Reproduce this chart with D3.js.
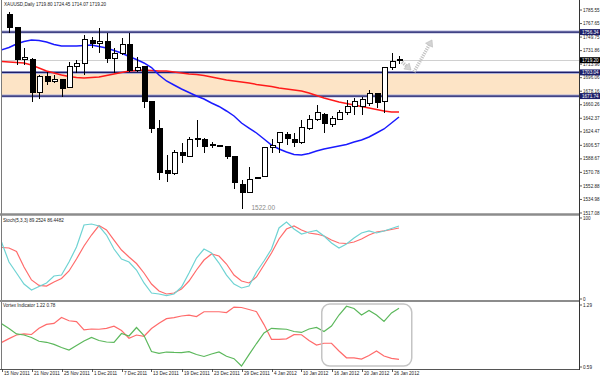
<!DOCTYPE html>
<html lang="en">
<head>
<meta charset="UTF-8">
<title>XAUUSD Daily</title>
<script src="https://d3js.org/d3.v7.min.js"></script>
<style>
  body { margin: 0; background: #fff; }
  text { font-family: "Liberation Sans", Arial, sans-serif; }
</style>
</head>
<body>
<div id="chart"></div>
<script>
// ---- data (one entry per daily bar, 15 Nov 2011 .. 27 Jan 2012) ----
var open  = [null,1779.0,1761.8,1719.5,1719.5,1675.8,1697.0,1690.4,1693.0,1683.7,1710.2,1714.2,1744.6,1741.9,1743.3,1720.8,1728.7,1739.3,1706.2,1710.2,1663.9,1629.5,1572.7,1568.7,1596.5,1591.2,1613.7,1613.7,1607.5,1607.0,1604.4,1591.2,1555.4,1543.6,1563.4,1566.0,1603.1,1609.7,1620.3,1613.7,1609.7,1629.5,1640.1,1646.7,1633.5,1641.4,1649.4,1657.3,1658.6,1661.3,1674.5,1663.9,1708.9,1719.80];
var high  = [null,1782.9,1763.1,1735.3,1722.1,1699.6,1703.6,1699.6,1694.3,1716.8,1719.5,1752.5,1749.9,1761.8,1755.2,1735.3,1748.5,1755.2,1723.4,1711.5,1665.0,1640.1,1593.8,1600.4,1609.7,1617.6,1640.1,1616.3,1611.0,1607.5,1604.4,1591.5,1560.8,1578.0,1563.8,1604.4,1615.0,1624.2,1624.2,1622.9,1640.1,1646.7,1659.9,1649.4,1645.4,1653.3,1666.6,1669.2,1670.5,1679.8,1675.8,1710.2,1728.7,1724.45];
var low   = [null,1755.2,1712.8,1712.8,1663.9,1667.9,1686.4,1689.0,1670.5,1682.4,1702.3,1699.6,1735.3,1728.7,1715.5,1702.3,1726.1,1703.6,1703.6,1656.0,1622.9,1560.8,1558.1,1567.4,1583.2,1591.2,1604.4,1596.5,1603.1,1606.5,1588.5,1548.8,1522.0,1543.0,1563.0,1564.7,1596.5,1596.5,1607.0,1604.4,1608.4,1626.9,1638.8,1622.9,1630.8,1640.1,1646.7,1646.7,1646.7,1658.6,1656.0,1649.4,1706.2,1714.07];
var close = [null,1761.8,1719.5,1722.1,1675.8,1697.0,1690.4,1694.3,1682.4,1710.2,1714.2,1745.9,1741.9,1743.3,1720.8,1727.4,1740.6,1706.2,1708.9,1663.9,1629.5,1571.3,1568.7,1596.5,1592.5,1613.7,1615.0,1604.4,1607.0,1607.0,1591.2,1556.8,1543.6,1560.8,1563.4,1603.1,1607.0,1622.9,1615.0,1609.7,1630.8,1640.1,1649.4,1636.1,1642.7,1649.4,1658.6,1663.9,1666.6,1674.5,1662.6,1708.9,1718.1,1719.20];

var maFast = [1732.7,1736.0,1740.6,1743.9,1745.9,1745.2,1743.3,1740.0,1738.0,1738.0,1738.0,1738.6,1739.3,1737.3,1735.3,1732.0,1728.7,1724.1,1720.1,1715.5,1709.5,1699.6,1691.7,1686.4,1681.1,1676.5,1671.8,1667.9,1662.6,1658.0,1652.0,1645.4,1636.1,1629.5,1622.9,1615.0,1607.0,1601.8,1597.8,1594.5,1593.8,1595.8,1599.1,1601.8,1603.7,1605.7,1607.7,1611.0,1613.7,1617.6,1622.9,1628.2,1636.1,1644.1];
var maSlow = [1717.5,1716.8,1716.1,1715.5,1712.8,1708.9,1704.9,1702.3,1699.6,1697.6,1696.3,1695.6,1696.3,1697.0,1699.0,1700.9,1702.9,1704.9,1705.6,1706.2,1705.6,1704.9,1704.9,1703.6,1702.3,1700.9,1700.3,1699.0,1697.0,1695.0,1693.0,1691.7,1690.4,1689.0,1687.1,1685.7,1684.4,1682.4,1681.1,1679.8,1678.5,1675.8,1672.5,1669.2,1666.6,1663.9,1661.9,1659.9,1658.0,1656.0,1654.0,1652.0,1650.7,1650.7];

var stochMain   = [70.4,45.7,32.1,18.5,11.1,15.4,19.8,28.4,29.6,45.7,64.2,91.4,92.6,90.1,79.0,61.7,49.4,45.7,35.8,19.8,7.4,6.2,4.3,6.2,14.8,32.1,50.6,61.7,56.8,44.4,29.6,18.5,13.6,16.0,33.3,46.9,61.7,87.7,95.1,86.4,80.2,82.7,84.6,77.8,69.1,63.0,67.9,75.3,81.5,84.0,81.5,84.0,87.0,90.1];
var stochSignal = [63.6,63.0,58.6,39.5,23.5,16.7,16.0,21.0,25.3,34.6,49.4,65.4,79.0,90.7,85.2,72.8,60.5,51.9,43.8,32.1,18.5,9.9,6.2,7.4,12.3,22.2,35.8,48.1,55.6,53.1,43.2,29.6,22.2,19.8,27.2,42.0,56.8,74.1,86.4,90.1,85.2,81.5,80.2,77.8,72.8,69.1,68.5,70.4,74.1,79.0,82.7,84.0,85.8,87.7];

var viPlus  = [1.079,1.025,0.963,0.951,0.923,0.881,0.869,0.846,0.810,0.782,0.833,0.884,0.923,0.889,0.872,0.867,0.968,0.940,1.036,0.946,0.765,0.745,0.759,0.755,0.753,0.763,0.731,0.709,0.737,0.760,0.711,0.684,0.601,0.729,0.855,0.974,1.027,1.021,1.016,0.991,0.980,1.019,1.036,0.991,1.053,1.177,1.276,1.250,1.177,1.228,1.177,1.104,1.200,1.254];
var viMinus = [0.867,0.910,0.951,0.963,0.957,1.027,1.071,1.082,1.149,1.112,1.103,1.009,1.019,1.016,1.027,1.050,1.002,0.915,0.951,0.937,1.025,1.085,1.136,1.147,1.166,1.175,1.160,1.214,1.214,1.214,1.205,1.267,1.262,1.239,1.215,1.069,0.903,0.903,0.908,0.955,0.954,0.890,0.838,0.858,0.858,0.771,0.694,0.694,0.680,0.720,0.771,0.714,0.688,0.677];

// date labels, one every 4 bars
var dateLabels = ["15 Nov 2011","21 Nov 2011","25 Nov 2011","1 Dec 2011","7 Dec 2011","13 Dec 2011","19 Dec 2011","23 Dec 2011","29 Dec 2011","4 Jan 2012","10 Jan 2012","16 Jan 2012","20 Jan 2012","26 Jan 2012"];

// price scale labels
var priceTicks = [1785.55,1767.65,1749.75,1731.86,1713.96,1696.06,1678.16,1660.26,1642.37,1624.47,1606.57,1588.67,1570.78,1552.88,1534.98,1517.08];
var levels = [1756.34,1703.04,1671.74];   // horizontal lines
var zone = [1703.04,1671.74];               // shaded band
var lastPrice = 1719.20;
var lowMark = {bar: 32, price: 1522.00};

var stochTicks = [100, 0];
var vortexTicks = [1.29, 0.59];

var W = 600, H = 375, axisX = 579;

var svg = d3.select("#chart").append("svg")
    .attr("width", W).attr("height", H)
    .style("display", "block");

svg.append("rect").attr("width", W).attr("height", H).attr("fill", "#fff");

var x = d3.scaleLinear().domain([0, 77]).range([1.5, axisX]);
var yP = d3.scaleLinear().domain([1517.08, 1798.8]).range([213, 0]);
var yS = d3.scaleLinear().domain([0, 100]).range([299, 218]);
var yV = d3.scaleLinear().domain([0.59, 1.29]).range([367, 305]);

var defs = svg.append("defs");
function clip(id, y0, y1) {
  defs.append("clipPath").attr("id", id).append("rect")
    .attr("x", 2).attr("y", y0).attr("width", axisX - 2).attr("height", y1 - y0);
}
clip("cMain", 0, 213);
clip("cStoch", 216, 300);
clip("cVort", 302, 369);

var idx = d3.range(maFast.length);

// ---------- main panel ----------
var main = svg.append("g").attr("clip-path", "url(#cMain)");

main.append("rect")
  .attr("x", 2).attr("width", axisX - 2)
  .attr("y", yP(zone[0])).attr("height", yP(zone[1]) - yP(zone[0]))
  .attr("fill", "#fde4c6");

main.append("line")
  .attr("x1", 2).attr("x2", axisX)
  .attr("y1", Math.round(yP(lastPrice)) + 0.5).attr("y2", Math.round(yP(lastPrice)) + 0.5)
  .attr("stroke", "#d0d0d0").attr("stroke-width", 1);

levels.forEach(function(v) {
  main.append("line").attr("x1", 2).attr("x2", axisX).attr("y1", yP(v)).attr("y2", yP(v))
    .attr("stroke", "#aeb0d8").attr("stroke-width", 3);
  main.append("line").attr("x1", 2).attr("x2", axisX).attr("y1", yP(v)).attr("y2", yP(v))
    .attr("stroke", "#1d1f6a").attr("stroke-width", 1.2);
});

var lineP = function(arr) {
  return d3.line().x(function(i) { return x(i); }).y(function(i) { return yP(arr[i]); })(idx);
};
main.append("path").attr("d", lineP(maSlow)).attr("fill", "none").attr("stroke", "#ff1a1a").attr("stroke-width", 1.5);
main.append("path").attr("d", lineP(maFast)).attr("fill", "none").attr("stroke", "#1a1aff").attr("stroke-width", 1.5);

// candles
var bars = idx.filter(function(i) { return open[i] !== null; });
var cg = main.append("g").attr("shape-rendering", "crispEdges");
cg.selectAll("line.wick").data(bars).enter().append("line")
  .attr("x1", function(i) { return Math.round(x(i)) + 0.5; })
  .attr("x2", function(i) { return Math.round(x(i)) + 0.5; })
  .attr("y1", function(i) { return yP(high[i]); })
  .attr("y2", function(i) { return yP(low[i]); })
  .attr("stroke", "#000");
cg.selectAll("rect.body").data(bars).enter().append("rect")
  .attr("x", function(i) { return Math.round(x(i)) - 2; })
  .attr("width", 5)
  .attr("y", function(i) { return yP(Math.max(open[i], close[i])); })
  .attr("height", function(i) { return Math.max(1, Math.abs(yP(open[i]) - yP(close[i]))); })
  .attr("fill", function(i) { return close[i] < open[i] ? "#000" : "#fff"; })
  .attr("stroke", "#000").attr("stroke-width", 1);

// hand-drawn arrows
var arrows = [
  {b0: 53.4, p0: 1716.8, b1: 54.6, p1: 1706.2},
  {b0: 55.0, p0: 1703.6, b1: 57.4, p1: 1745.9}
];
arrows.forEach(function(a) {
  var x1 = x(a.b0), y1 = yP(a.p0), x2 = x(a.b1), y2 = yP(a.p1);
  var dx = x2 - x1, dy = y2 - y1, L = Math.sqrt(dx * dx + dy * dy);
  var ux = dx / L, uy = dy / L, hl = 6, hw = 4;
  var bx = x2 - ux * hl, by = y2 - uy * hl;
  main.append("line").attr("x1", x1).attr("y1", y1).attr("x2", bx).attr("y2", by)
    .attr("stroke", "#c2c2c2").attr("stroke-width", 3.5).attr("stroke-dasharray", "1.3,1");
  main.append("path")
    .attr("d", "M" + x2 + "," + y2 + "L" + (bx - uy * hw) + "," + (by + ux * hw) + "L" + (bx + uy * hw) + "," + (by - ux * hw) + "Z")
    .attr("fill", "#d4d4d4").attr("stroke", "#b8b8b8").attr("stroke-width", 0.6);
});

main.append("text")
  .attr("x", x(lowMark.bar) + 10).attr("y", yP(lowMark.price) + 1)
  .attr("font-size", "6.5px").attr("fill", "#8a8a8a")
  .text(lowMark.price.toFixed(2));

svg.append("text").attr("x", 4).attr("y", 6).attr("font-size", "4.6px").attr("fill", "#222")
  .text("XAUUSD,Daily  1719.80 1724.45 1714.07 1719.20");

// ---------- stochastic ----------
var st = svg.append("g").attr("clip-path", "url(#cStoch)");
var lineS = function(arr) {
  return d3.line().x(function(i) { return x(i); }).y(function(i) { return yS(arr[i]); })(idx);
};
st.append("path").attr("d", lineS(stochSignal)).attr("fill", "none").attr("stroke", "#ff6b6b").attr("stroke-width", 1.2);
st.append("path").attr("d", lineS(stochMain)).attr("fill", "none").attr("stroke", "#6fd3d3").attr("stroke-width", 1.2);
svg.append("text").attr("x", 3).attr("y", 222).attr("font-size", "4.6px").attr("fill", "#222")
  .text("Stoch(5,3,3) 89.2524 86.4482");

// ---------- vortex ----------
var vt = svg.append("g").attr("clip-path", "url(#cVort)");
var lineV = function(arr) {
  return d3.line().x(function(i) { return x(i); }).y(function(i) { return yV(arr[i]); })(idx);
};
vt.append("path").attr("d", lineV(viMinus)).attr("fill", "none").attr("stroke", "#ff6b6b").attr("stroke-width", 1.2);
vt.append("path").attr("d", lineV(viPlus)).attr("fill", "none").attr("stroke", "#5cb85c").attr("stroke-width", 1.2);

var box = {b0: 42.7, b1: 54.7, v0: 1.30, v1: 0.60};
vt.append("rect")
  .attr("x", x(box.b0)).attr("width", x(box.b1) - x(box.b0))
  .attr("y", yV(box.v0)).attr("height", yV(box.v1) - yV(box.v0))
  .attr("rx", 8).attr("ry", 8)
  .attr("fill", "none").attr("stroke", "#c4c4c4").attr("stroke-width", 1.5);
svg.append("text").attr("x", 3).attr("y", 307).attr("font-size", "4.6px").attr("fill", "#222")
  .text("Vortex Indicator 1.22 0.78");

// ---------- frame and separators ----------
svg.append("line").attr("x1", 1.5).attr("x2", 1.5).attr("y1", 0).attr("y2", 369).attr("stroke", "#7a7a7a");
svg.append("line").attr("x1", 0).attr("x2", axisX).attr("y1", 214.5).attr("y2", 214.5).attr("stroke", "#8c8c8c").attr("stroke-width", 2.5);
svg.append("line").attr("x1", 0).attr("x2", axisX).attr("y1", 301).attr("y2", 301).attr("stroke", "#8c8c8c").attr("stroke-width", 2);
svg.append("line").attr("x1", 0).attr("x2", axisX).attr("y1", 369.5).attr("y2", 369.5).attr("stroke", "#555");
svg.append("line").attr("x1", axisX + 0.5).attr("x2", axisX + 0.5).attr("y1", 0).attr("y2", 370).attr("stroke", "#333");

// ---------- right price axis ----------
var ax = svg.append("g").attr("font-size", "4.6px").attr("fill", "#222");
function axisLabel(y, txt) {
  ax.append("line").attr("x1", axisX).attr("x2", axisX + 3).attr("y1", y).attr("y2", y).attr("stroke", "#333").attr("stroke-width", 0.8);
  ax.append("text").attr("x", axisX + 4).attr("y", y).attr("dy", "0.35em").text(txt);
}
priceTicks.forEach(function(v) { axisLabel(yP(v), v.toFixed(2)); });
stochTicks.forEach(function(v) { axisLabel(yS(v), String(v)); });
vortexTicks.forEach(function(v) { axisLabel(yV(v), v.toFixed(2)); });

function tagLabel(v, bg) {
  var y = yP(v);
  ax.append("rect").attr("x", axisX + 1).attr("y", y - 3).attr("width", 20).attr("height", 6).attr("fill", bg);
  ax.append("text").attr("x", axisX + 3).attr("y", y).attr("dy", "0.35em").attr("fill", "#fff").text(v.toFixed(2));
}
levels.forEach(function(v) { tagLabel(v, "#1d1f6a"); });
tagLabel(lastPrice, "#000");

// ---------- time axis ----------
var tx = svg.append("g").attr("font-size", "4.6px").attr("fill", "#222");
dateLabels.forEach(function(lbl, k) {
  var xi = Math.round(x(k * 4)) + 0.5;
  tx.append("line").attr("x1", xi).attr("x2", xi).attr("y1", 369).attr("y2", 372).attr("stroke", "#333").attr("stroke-width", 0.8);
  tx.append("text").attr("x", xi + 1.5).attr("y", 374.5).text(lbl);
});
</script>
</body>
</html>
